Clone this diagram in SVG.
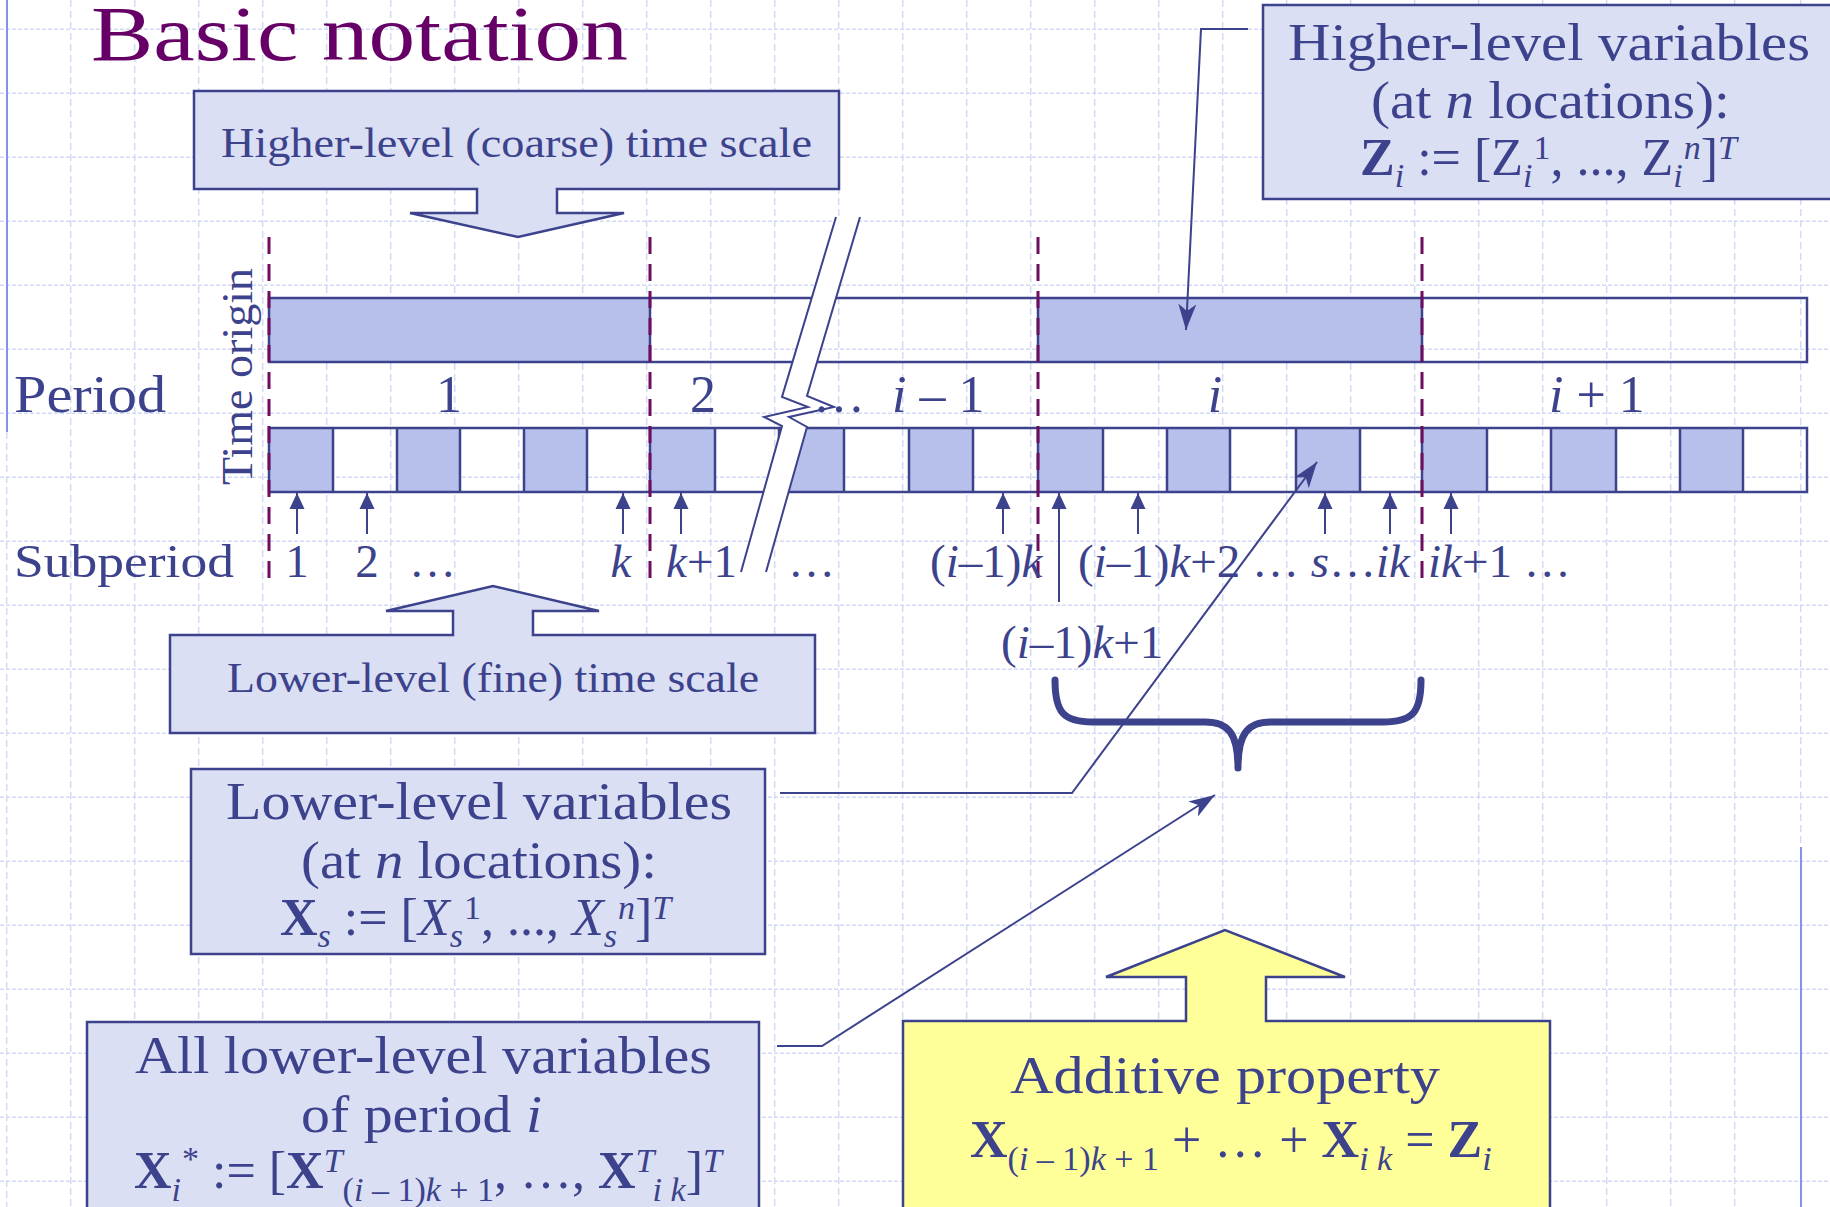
<svg xmlns="http://www.w3.org/2000/svg" width="1830" height="1207" viewBox="0 0 1830 1207">
<defs>
<style>
.grid{fill:none;stroke:#d2daf6;stroke-width:1.5}
.gv{stroke-dasharray:7 4}
.gh{stroke-dasharray:4 2}
.margin{stroke:#7f93ef;stroke-width:2;fill:none}
.t{font-family:"Liberation Serif","Times New Roman",serif;fill:#3c428c}
.it{font-style:italic}
.bd{font-weight:bold}
.box{fill:#dadff4;stroke:#3c428c;stroke-width:2.5}
.yel{fill:#ffff99;stroke:#3c428c;stroke-width:2.5}
.bar{fill:none;stroke:#3c428c;stroke-width:2.5}
.cell{fill:#b7bfeb}
.dash{stroke:#6e0d5e;stroke-width:3;stroke-dasharray:17 10;fill:none}
.ln{fill:none;stroke:#3c428c;stroke-width:2}
.tick{fill:none;stroke:#3c428c;stroke-width:2;marker-end:url(#tri)}
.con{fill:none;stroke:#3c428c;stroke-width:2;marker-end:url(#barb)}
</style>
<marker id="tri" viewBox="0 0 16 16" refX="16" refY="8" markerWidth="16" markerHeight="16" markerUnits="userSpaceOnUse" orient="auto"><path d="M0,0.5 L16,8 L0,15.5 Z" fill="#3c428c"/></marker>
<marker id="barb" viewBox="0 0 26 20" refX="26" refY="10" markerWidth="26" markerHeight="20" markerUnits="userSpaceOnUse" orient="auto"><path d="M0,1 L26,10 L0,19 L7,10 Z" fill="#3c428c"/></marker>
</defs>
<rect x="0" y="0" width="1830" height="1207" fill="#ffffff"/>
<g id="grid">
<path class="grid gv" d="M6.7,432V1207M70.7,0V1207M134.7,0V1207M198.7,0V1207M262.7,0V1207M326.7,0V1207M390.7,0V1207M454.7,0V1207M518.7,0V1207M582.7,0V1207M646.7,0V1207M710.7,0V1207M774.7,0V1207M838.7,0V1207M902.7,0V1207M966.7,0V1207M1030.7,0V1207M1094.7,0V1207M1158.7,0V1207M1222.7,0V1207M1286.7,0V1207M1350.7,0V1207M1414.7,0V1207M1478.7,0V1207M1542.7,0V1207M1606.7,0V1207M1670.7,0V1207M1734.7,0V1207M1800.7,0V847"/>
<path class="grid gh" d="M0,29.3H1830M0,93.3H1830M0,157.3H1830M0,221.3H1830M0,285.3H1830M0,349.3H1830M0,413.3H1830M0,477.3H1830M0,541.3H1830M0,605.3H1830M0,669.3H1830M0,733.3H1830M0,797.3H1830M0,861.3H1830M0,925.3H1830M0,989.3H1830M0,1053.3H1830M0,1117.3H1830M0,1181.3H1830"/>
<path class="margin" d="M7,0V432M1801,847V1207"/>
</g>
<g id="title"><text class="t" x="91" y="60" font-size="78" textLength="537" lengthAdjust="spacingAndGlyphs" style="fill:#660066">Basic notation</text></g>

<g id="coarse-scale">
<path class="box" d="M194,91H839V189H557V213H624L518,237L410,213H477V189H194Z"/>
<text class="t" x="221" y="157" font-size="42" textLength="591" lengthAdjust="spacingAndGlyphs">Higher-level (coarse) time scale</text>
</g>

<g id="upper-bar">
<rect class="cell" x="269" y="298" width="381" height="64"/>
<rect class="cell" x="1038" y="298" width="384" height="64"/>
<rect class="bar" x="269" y="298" width="1538" height="64"/>
<path class="bar" d="M650,298V362M1038,298V362M1422,298V362"/>
</g>

<g id="lower-bar">
<rect class="cell" x="269" y="428" width="64" height="64"/>
<rect class="cell" x="397" y="428" width="63" height="64"/>
<rect class="cell" x="524" y="428" width="63" height="64"/>
<rect class="cell" x="650" y="428" width="65" height="64"/>
<rect class="cell" x="779" y="428" width="65" height="64"/>
<rect class="cell" x="909" y="428" width="64" height="64"/>
<rect class="cell" x="1038" y="428" width="65" height="64"/>
<rect class="cell" x="1167" y="428" width="63" height="64"/>
<rect class="cell" x="1296" y="428" width="64" height="64"/>
<rect class="cell" x="1422" y="428" width="65" height="64"/>
<rect class="cell" x="1551" y="428" width="65" height="64"/>
<rect class="cell" x="1680" y="428" width="63" height="64"/>
<rect class="bar" x="269" y="428" width="1538" height="64"/>
<path class="bar" d="M333,428V492M397,428V492M460,428V492M524,428V492M587,428V492M650,428V492M715,428V492M779,428V492M844,428V492M909,428V492M973,428V492M1038,428V492M1103,428V492M1167,428V492M1230,428V492M1296,428V492M1360,428V492M1422,428V492M1487,428V492M1551,428V492M1616,428V492M1680,428V492M1743,428V492"/>
</g>

<g id="break">
<polygon points="836,217 782,397 808,407 764,417 782,426 741,572 766,572 807,427 789,417 834,407 807,396 860,217" fill="#ffffff"/>
<polyline class="ln" points="836,217 782,397 808,407 764,417 782,426 741,572"/>
<polyline class="ln" points="860,217 807,396 834,407 789,417 807,427 766,572"/>
</g>

<g id="boundaries">
<path class="dash" d="M269,237V585M650,237V585M1038,237V585M1422,237V585"/>
</g>

<g id="time-origin"><text class="t" transform="translate(252,485) rotate(-90)" x="0" y="0" font-size="44" textLength="217" lengthAdjust="spacingAndGlyphs">Time origin</text></g>

<g id="period-labels">
<text class="t" x="14" y="412" font-size="52" textLength="152" lengthAdjust="spacingAndGlyphs">Period</text>
<text class="t" x="449" y="412" font-size="52" text-anchor="middle">1</text>
<text class="t" x="703" y="412" font-size="52" text-anchor="middle">2</text>
<text class="t" x="813" y="412" font-size="52">…</text>
<text class="t" x="892" y="412" font-size="52"><tspan class="it">i</tspan> – 1</text>
<text class="t it" x="1215" y="412" font-size="52" text-anchor="middle">i</text>
<text class="t" x="1549" y="412" font-size="52"><tspan class="it">i</tspan> + 1</text>
</g>

<g id="subperiod-labels">
<text class="t" x="14" y="577" font-size="47" textLength="220" lengthAdjust="spacingAndGlyphs">Subperiod</text>
<text class="t" x="297" y="577" font-size="47" text-anchor="middle">1</text>
<text class="t" x="367" y="577" font-size="47" text-anchor="middle">2</text>
<text class="t" x="409" y="577" font-size="47">…</text>
<text class="t it" x="621" y="577" font-size="47" text-anchor="middle">k</text>
<text class="t" x="666" y="577" font-size="47"><tspan class="it">k</tspan>+1</text>
<text class="t" x="788" y="577" font-size="47">…</text>
<text class="t" x="930" y="577" font-size="47">(<tspan class="it">i</tspan>–1)<tspan class="it">k</tspan></text>
<text class="t" x="1078" y="577" font-size="47">(<tspan class="it">i</tspan>–1)<tspan class="it">k</tspan>+2 … <tspan class="it">s</tspan>…<tspan class="it">ik</tspan></text>
<text class="t" x="1428" y="577" font-size="47"><tspan class="it">ik</tspan>+1 …</text>
<text class="t" x="1001" y="658" font-size="47">(<tspan class="it">i</tspan>–1)<tspan class="it">k</tspan>+1</text>
</g>

<g id="connectors">
<path class="tick" d="M297,534V493"/>
<path class="tick" d="M367,534V493"/>
<path class="tick" d="M623,534V493"/>
<path class="tick" d="M681,534V493"/>
<path class="tick" d="M1003,534V493"/>
<path class="tick" d="M1059,602V493"/>
<path class="tick" d="M1138,534V493"/>
<path class="tick" d="M1325,534V493"/>
<path class="tick" d="M1390,534V493"/>
<path class="tick" d="M1451,534V493"/>
<path d="M1055,680C1055,712 1063,722 1093,722L1205,722C1228,722 1238,733 1238,768C1238,733 1248,722 1271,722L1383,722C1413,722 1421,712 1421,680" fill="none" stroke="#3c428c" stroke-width="7" stroke-linecap="round" stroke-linejoin="round"/>
<polyline class="con" points="1248,29 1201,29 1186,330"/>
<polyline class="con" points="780,793 1072,793 1317,462"/>
<polyline class="con" points="777,1046 822,1046 1215,795"/>
</g>

<g id="fine-scale">
<path class="box" d="M170,733V635H453V611H386L493,586L599,611H533V635H815V733Z"/>
<text class="t" x="227" y="692" font-size="42" textLength="532" lengthAdjust="spacingAndGlyphs">Lower-level (fine) time scale</text>
</g>

<g id="higher-vars">
<rect class="box" x="1263" y="5" width="580" height="194"/>
<text class="t" x="1288" y="60" font-size="52" textLength="522" lengthAdjust="spacingAndGlyphs">Higher-level variables</text>
<text class="t" x="1371" y="118" font-size="52" textLength="359" lengthAdjust="spacingAndGlyphs">(at <tspan class="it">n</tspan> locations):</text>
<text class="t" x="1360" y="175" font-size="52"><tspan class="bd">Z</tspan><tspan class="it" font-size="34" dy="12">i</tspan><tspan dy="-12"> := [Z</tspan><tspan class="it" font-size="34" dy="12">i</tspan><tspan font-size="34" dx="1" dy="-28">1</tspan><tspan dy="16">, ..., Z</tspan><tspan class="it" font-size="34" dy="12">i</tspan><tspan class="it" font-size="34" dx="1" dy="-28">n</tspan><tspan dy="16">]</tspan><tspan class="it" font-size="34" dy="-16">T</tspan></text>
</g>

<g id="lower-vars">
<rect class="box" x="191" y="769" width="574" height="185"/>
<text class="t" x="226" y="819" font-size="52" textLength="506" lengthAdjust="spacingAndGlyphs">Lower-level variables</text>
<text class="t" x="301" y="878" font-size="52" textLength="356" lengthAdjust="spacingAndGlyphs">(at <tspan class="it">n</tspan> locations):</text>
<text class="t" x="280" y="935" font-size="52"><tspan class="bd">X</tspan><tspan class="it" font-size="34" dy="12">s</tspan><tspan dy="-12"> := [</tspan><tspan class="it">X</tspan><tspan class="it" font-size="34" dy="12">s</tspan><tspan font-size="34" dx="1" dy="-28">1</tspan><tspan dy="16">, ..., </tspan><tspan class="it">X</tspan><tspan class="it" font-size="34" dy="12">s</tspan><tspan class="it" font-size="34" dx="1" dy="-28">n</tspan><tspan dy="16">]</tspan><tspan class="it" font-size="34" dy="-16">T</tspan></text>
</g>

<g id="all-lower-vars">
<rect class="box" x="87" y="1022" width="672" height="200"/>
<text class="t" x="135" y="1073" font-size="52" textLength="577" lengthAdjust="spacingAndGlyphs">All lower-level variables</text>
<text class="t" x="301" y="1132" font-size="52" textLength="241" lengthAdjust="spacingAndGlyphs">of period <tspan class="it">i</tspan></text>
<text class="t" x="134" y="1188" font-size="52"><tspan class="bd">X</tspan><tspan class="it" font-size="34" dy="13">i</tspan><tspan font-size="34" dx="1" dy="-31">*</tspan><tspan dy="18"> := [</tspan><tspan class="bd">X</tspan><tspan class="it" font-size="34" dy="-16">T</tspan><tspan font-size="34" dy="29">(<tspan class="it">i</tspan> – 1)<tspan class="it">k</tspan> + 1</tspan><tspan dy="-13">, …, </tspan><tspan class="bd">X</tspan><tspan class="it" font-size="34" dy="-16">T</tspan><tspan class="it" font-size="34" dy="29">i k</tspan><tspan dy="-13">]</tspan><tspan class="it" font-size="34" dy="-16">T</tspan></text>
</g>

<g id="additive">
<path class="yel" d="M903,1222V1021H1186V977H1106L1225,930L1345,977H1266V1021H1550V1222Z"/>
<text class="t" x="1010" y="1093" font-size="52" textLength="430" lengthAdjust="spacingAndGlyphs">Additive property</text>
<text class="t" x="970" y="1157" font-size="52"><tspan class="bd">X</tspan><tspan font-size="34" dy="13">(<tspan class="it">i</tspan> – 1)<tspan class="it">k</tspan> + 1</tspan><tspan dy="-13"> + … + </tspan><tspan class="bd">X</tspan><tspan class="it" font-size="34" dy="13">i k</tspan><tspan dy="-13"> = </tspan><tspan class="bd">Z</tspan><tspan class="it" font-size="34" dy="13">i</tspan></text>
</g>
</svg>
